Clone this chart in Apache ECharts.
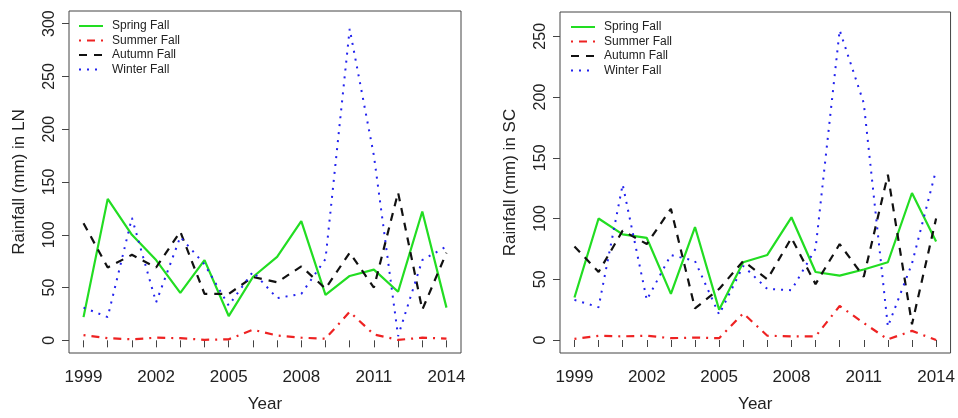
<!DOCTYPE html>
<html>
<head>
<meta charset="utf-8">
<script src="https://cdn.jsdelivr.net/npm/echarts@6/dist/echarts.min.js"></script>
<style>
html,body{margin:0;padding:0;background:#fff;}
#chart{width:958px;height:418px;}
</style>
</head>
<body>
<div id="chart"></div>
<script>
var years = [1999,2000,2001,2002,2003,2004,2005,2006,2007,2008,2009,2010,2011,2012,2013,2014];
var xTickLabels = [1999,2002,2005,2008,2011,2014];
var yTicksLN = [0,50,100,150,200,250,300];
var yTicksSC = [0,50,100,150,200,250];
var seriesNames = ['Spring Fall','Summer Fall','Autumn Fall','Winter Fall'];

var springLN = [22,134,100,76,45,76,23,60,79,113,43,61,67,46,122,31];
var summerLN = [5,2,1,2.5,2,0.5,1,10,4.6,2.5,1.6,27,5.6,0.4,2.5,1.6];
var autumnLN = [111,69,81,69,103,44,44,60,55,70,49,83,50,140,29,83];
var winterLN = [31,22,116,36,98,72,33,65,40,44,77,295,175,4,76,89];

var springSC = [35,100,87,84,38,93,25,64,70,101,56,53,58,64,121,81];
var summerSC = [1,3.5,3,3.5,1.5,2,1.5,22,3.5,3,3,28,14,0.5,7.5,0];
var autumnSC = [77,56,90,79,108,26,42,65,50,84,46,79,52,136,13,100];
var winterSC = [33,27,128,33,70,65,21,61,42,41,75,255,195,11,63,140];

var styles = [
  {color:'#22dd22', type:'solid', width:2.2},
  {color:'#ee2222', type:[2,6,8,6], width:2.2},
  {color:'#111111', type:[8,7], width:2.2},
  {color:'#2222ee', type:[2,6], width:2}
];

function pairs(vals){ return years.map(function(y,i){ return [y, vals[i]]; }); }

var FONT = 'Liberation Sans, Arial, sans-serif';

function mkSeries(name, vals, idx, styleIdx){
  var s = styles[styleIdx];
  return {
    name: name, type:'line', xAxisIndex: idx, yAxisIndex: idx,
    data: pairs(vals), symbol:'none', smooth:false,
    lineStyle:{color:s.color, type:s.type, width:s.width},
    itemStyle:{color:s.color},
    emphasis:{disabled:true}
  };
}

function xAx(idx){
  return {
    type:'value', gridIndex: idx, min:1998.4, max:2014.6,
    name:'Year', nameLocation:'middle', nameGap:43,
    nameTextStyle:{fontFamily:FONT, fontSize:17, color:'#222'},
    axisLine:{show:false},
    splitLine:{show:false},
    axisTick:{show:true, inside:false, length:7, customValues: years, lineStyle:{color:'#444', width:1}},
    axisLabel:{customValues: xTickLabels, margin:16, fontFamily:FONT, fontSize:17, color:'#222', formatter:function(v){return String(v);}}
  };
}
function yAx(idx, name, ticks, min, max){
  return {
    type:'value', gridIndex: idx, min:min, max:max,
    name:name, nameLocation:'middle', nameGap:41, nameRotate:90,
    nameTextStyle:{fontFamily:FONT, fontSize:17, color:'#222'},
    axisLine:{show:false},
    splitLine:{show:false},
    axisTick:{show:true, inside:false, length:7, customValues: ticks, lineStyle:{color:'#444', width:1}},
    axisLabel:{customValues: ticks, rotate:90, margin:11, fontFamily:FONT, fontSize:16, color:'#222'}
  };
}
function legend(left, top){
  return {
    orient:'vertical', left:left, top:top, itemWidth:24, itemHeight:8, itemGap:2.5,
    data: seriesNames, selectedMode:false,
    textStyle:{fontFamily:FONT, fontSize:12, color:'#222', padding:[0,0,0,4]},
    itemStyle:{opacity:0}
  };
}

var option = {
  animation:false,
  backgroundColor:'#fff',
  grid:[
    {left:69, top:11, width:392, height:350, show:true, borderColor:'#444', borderWidth:1, backgroundColor:'transparent'},
    {left:560, top:12, width:391, height:349, show:true, borderColor:'#444', borderWidth:1, backgroundColor:'transparent'}
  ],
  legend:[legend(73,15), legend(565,16)],
  xAxis:[xAx(0), xAx(1)],
  yAxis:[yAx(0,'Rainfall (mm) in LN', yTicksLN, -12, 312), yAx(1,'Rainfall (mm) in SC', yTicksSC, -10.7, 270)],
  series:[
    mkSeries(seriesNames[0], springLN, 0, 0),
    mkSeries(seriesNames[1], summerLN, 0, 1),
    mkSeries(seriesNames[2], autumnLN, 0, 2),
    mkSeries(seriesNames[3], winterLN, 0, 3),
    mkSeries(seriesNames[0], springSC, 1, 0),
    mkSeries(seriesNames[1], summerSC, 1, 1),
    mkSeries(seriesNames[2], autumnSC, 1, 2),
    mkSeries(seriesNames[3], winterSC, 1, 3)
  ]
};
var chart = echarts.init(document.getElementById('chart'), null, {renderer:'canvas'});
chart.setOption(option);
</script>
</body>
</html>
